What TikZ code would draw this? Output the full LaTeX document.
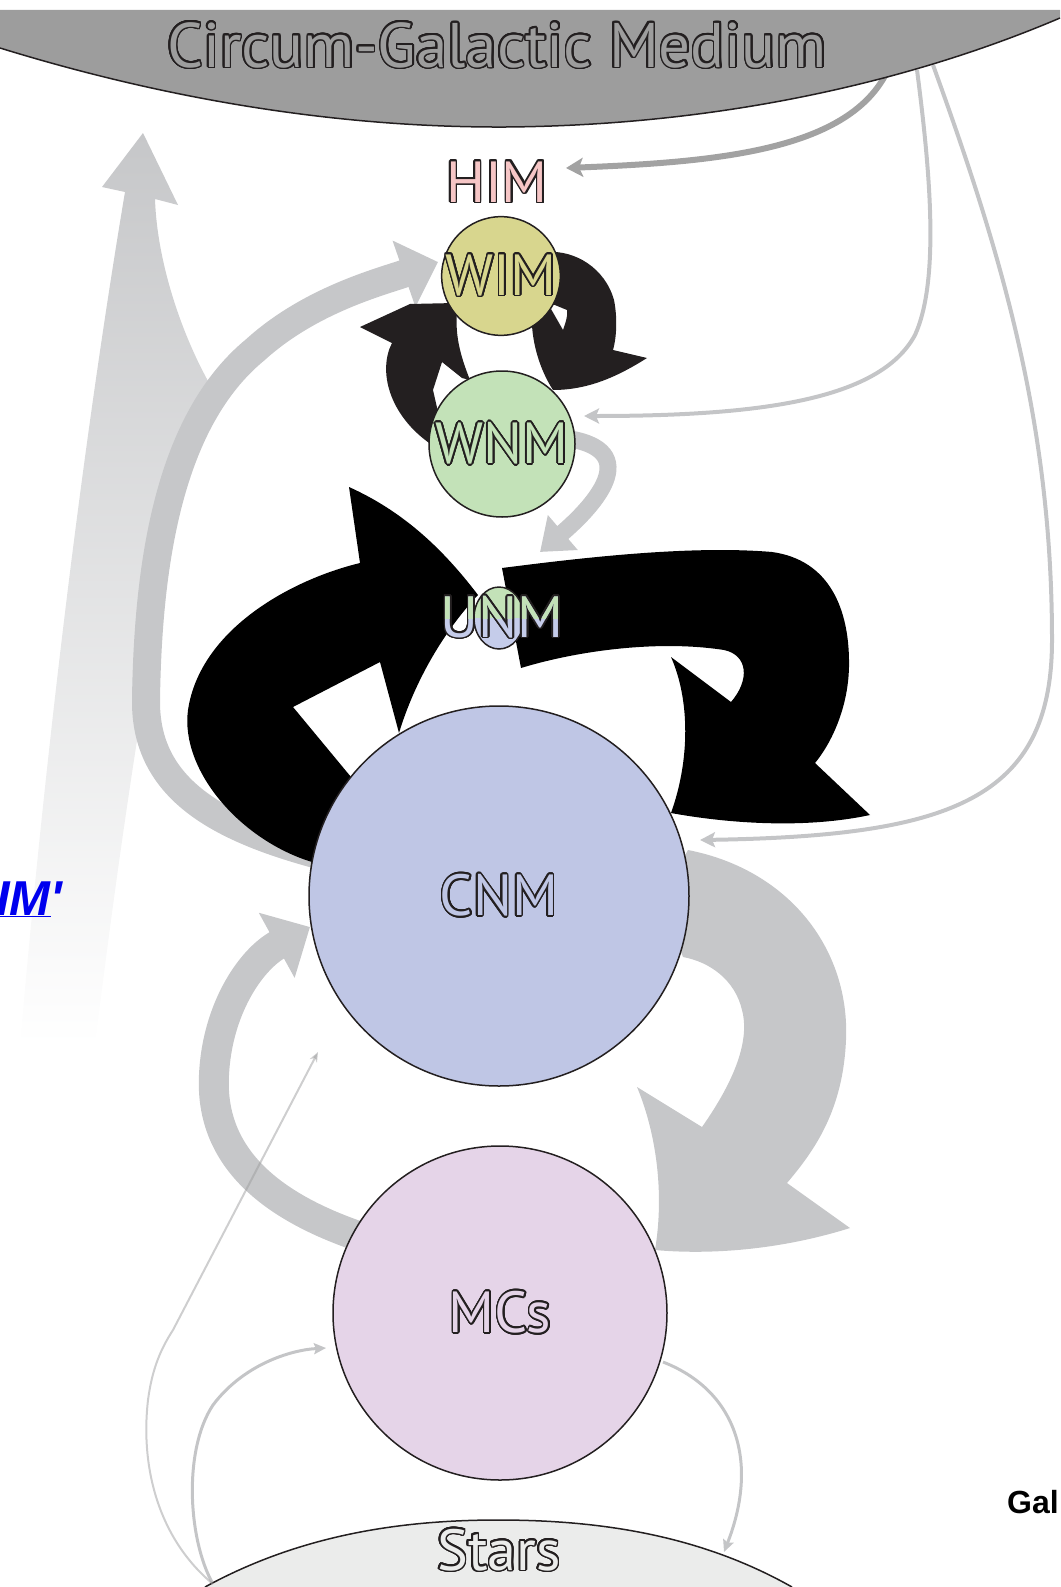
\documentclass[tikz,border=0pt]{standalone}
\usepackage{fontspec}
\setmainfont{Liberation Sans}
\newfontfamily\gasfont{PT Sans}
\usepackage[copies]{contour}
\usetikzlibrary{arrows.meta,shapes.geometric}

\definecolor{inkline}{HTML}{231F20}
\definecolor{cgmgrey}{HTML}{9D9D9D}
\definecolor{bandgrey}{HTML}{C6C7C9}
\definecolor{thingrey}{HTML}{C4C5C7}
\definecolor{himgrey}{HTML}{A2A2A2}
\definecolor{himpink}{HTML}{F6C6C6}
\definecolor{wimfill}{HTML}{D8D68E}
\definecolor{wnmfill}{HTML}{C3E2B8}
\definecolor{cnmfill}{HTML}{BFC6E5}
\definecolor{unmblue}{HTML}{C5CCEA}
\definecolor{mcsfill}{HTML}{E5D4E8}
\definecolor{starfill}{HTML}{EBECEB}
\definecolor{linkblue}{HTML}{0000EE}

\contourlength{1.6pt}
\contournumber{24}
\newcommand{\gastext}[2]{\contour{inkline}{\textcolor{#1}{#2}}}

\begin{document}
\begin{tikzpicture}[x=1pt, y=-1pt,
    gasball/.style={circle, draw=inkline, line width=1.5pt, inner sep=0pt, font=\gasfont\fontsize{58}{60}\selectfont},
    lbl/.style={anchor=base, inner sep=0pt, font=\gasfont\fontsize{58}{60}\selectfont},
    greyband/.style={draw=bandgrey},
    thinflow/.style={draw=thingrey, line width=4pt, -{Stealth[length=15pt,width=15pt,inset=3pt]}}
]
    \useasboundingbox (0,0) rectangle (1060,1587);

    % free ends of the flows
    \coordinate (cgmA) at (888,70);
    \coordinate (cgmB) at (917,70);
    \coordinate (cgmC) at (933,65);
    \coordinate (himIn) at (566,168);
    \coordinate (wnmIn) at (584,416);
    \coordinate (cnmIn) at (700,840);
    \coordinate (cnmLow) at (318,1052);
    \coordinate (mcsIn) at (326,1348);
    \coordinate (mcsOut) at (663,1362);
    \coordinate (starsIn) at (724,1552);
    \coordinate (starsOut) at (213,1584);

    % fading outflow
    \shade[top color=bandgrey, middle color=bandgrey!30, bottom color=white]
        (143,133) -- (178,205) -- (155,199) .. controls (157,260) and (180,330) .. (208,381)
        .. controls (170,520) and (130,760) .. (95,1045) -- (20,1045)
        .. controls (50,700) and (90,400) .. (125,192) -- (102,187) -- cycle;

    % thin flows out of the halo
    \draw[thinflow, draw=himgrey, line width=6pt, -{Stealth[length=17pt,width=19pt,inset=4pt]}]
        (cgmA) .. controls (850,150) and (720,162) .. (himIn);
    \draw[thinflow] (cgmB) .. controls (930,170) and (940,280) .. (915,335)
        .. controls (880,400) and (760,416) .. (wnmIn);
    \draw[thinflow] (cgmC) .. controls (1000,250) and (1052,420) .. (1052,640)
        .. controls (1052,800) and (950,836) .. (cnmIn);

    % halo
    \fill[cgmgrey] (0,10) -- (1060,10) -- (1060,18) .. controls (950,65) and (760,125) .. (506,127)
        .. controls (300,128) and (120,85) .. (0,48) -- cycle;
    \draw[inkline, line width=1.5pt] (1060,18) .. controls (950,65) and (760,125) .. (506,127)
        .. controls (300,128) and (120,85) .. (0,48);

    % thin flows near the stars
    \draw[thinflow, line width=3pt, -{Stealth[length=12pt,width=11pt,inset=2pt]}]
        (mcsOut) .. controls (735,1390) and (760,1460) .. (starsIn);
    \draw[thinflow, line width=3pt, -{Stealth[length=12pt,width=11pt,inset=2pt]}]
        (starsOut) .. controls (188,1540) and (183,1450) .. (213,1405)
        .. controls (243,1365) and (290,1350) .. (mcsIn);
    \fill[starfill] (205,1587) .. controls (300,1535) and (400,1520) .. (498,1520)
        .. controls (600,1520) and (700,1535) .. (792,1587) -- cycle;
    \draw[inkline, line width=1.5pt] (205,1587) .. controls (300,1535) and (400,1520) .. (498,1520)
        .. controls (600,1520) and (700,1535) .. (792,1587);

    % grey bands
    \draw[greyband, line width=28pt, -{Triangle[length=36pt,width=68pt]}]
        (330,858) .. controls (220,830) and (145,790) .. (146,700)
        .. controls (148,560) and (170,420) .. (255,350)
        .. controls (310,300) and (380,282) .. (438,262);
    \draw[greyband, line width=30pt, -{Triangle[length=38pt,width=72pt]}]
        (370,1240) .. controls (260,1205) and (210,1150) .. (214,1075)
        .. controls (217,1010) and (250,960) .. (310,927);
    \draw[greyband, line width=17pt, -{Triangle[length=30pt,width=44pt]}]
        (555,437) .. controls (650,445) and (595,505) .. (540,552);
    \fill[bandgrey] (688,850) .. controls (790,870) and (850,950) .. (846,1040)
        .. controls (843,1110) and (815,1150) .. (787,1183) -- (850,1228)
        .. controls (780,1250) and (710,1255) .. (655,1250)
        .. controls (665,1190) and (655,1130) .. (637,1087) -- (702,1127)
        .. controls (735,1080) and (750,1040) .. (742,1010)
        .. controls (735,980) and (710,962) .. (683,957) -- (660,900) -- cycle;
    \draw[thingrey!80!black, opacity=0.5, line width=2pt, -{Stealth[length=10pt,width=8pt]}]
        (starsOut) .. controls (160,1540) and (140,1470) .. (148,1400)
        .. controls (152,1370) and (160,1350) .. (173,1330) -- (cnmLow);

    % black cycles
    \fill[inkline] (520,262) -- (547,252) .. controls (575,250) and (605,268) .. (614,300)
        .. controls (618,320) and (616,340) .. (613,350) -- (647,358)
        .. controls (620,375) and (590,390) .. (553,390)
        .. controls (540,370) and (533,345) .. (532,325) -- (551,309) -- (563,330)
        .. controls (566,322) and (568,314) .. (567,310) -- (550,303) -- cycle;
    \fill[inkline] (480,300) -- (455,303) -- (410,304) -- (360,327) -- (392,343)
        .. controls (378,370) and (388,415) .. (432,445) -- (455,430) -- (438,412)
        -- (433,390) -- (442,362) -- (462,378) -- (470,380)
        .. controls (460,355) and (455,335) .. (457,312) -- cycle;
    \fill[black] (340,850) -- (351,777) -- (293,707) -- (380,662) -- (399,733)
        .. controls (415,680) and (445,630) .. (478,595)
        .. controls (440,545) and (400,510) .. (349,487) -- (360,563)
        .. controls (290,580) and (200,630) .. (188,710)
        .. controls (180,770) and (240,840) .. (312,862) -- cycle;
    \fill[black] (502,568) .. controls (580,558) and (690,545) .. (772,552)
        .. controls (830,560) and (850,610) .. (849,667)
        .. controls (848,710) and (830,745) .. (815,763) -- (870,815)
        .. controls (800,830) and (720,822) .. (671,813)
        .. controls (690,760) and (690,700) .. (671,657) -- (731,702)
        .. controls (750,680) and (748,655) .. (724,650)
        .. controls (660,640) and (580,650) .. (521,668) -- cycle;

    % gas phases
    \node[gasball, fill=wimfill, minimum size=106pt] (wim) at (501,276) {\gastext{wimfill}{WIM}};
    \node[gasball, fill=wnmfill, minimum size=146pt] (wnm) at (502,444) {\gastext{wnmfill}{WNM}};
    \node[ellipse, draw=inkline, line width=1.5pt, inner sep=0pt, minimum width=50pt, minimum height=62pt,
        path picture={\fill[wnmfill] (path picture bounding box.north west) rectangle (path picture bounding box.east);
                      \fill[unmblue] (path picture bounding box.west) rectangle (path picture bounding box.south east);}]
        (unm) at (499,618) {};
    \node[gasball, fill=cnmfill, minimum size=380pt] (cnm) at (499,896) {\gastext{cnmfill}{CNM}};
    \node[gasball, fill=mcsfill, minimum size=334pt] (mcs) at (500,1313) {\gastext{mcsfill}{MCs}};

    % the unstable phase is half warm, half cold
    \node[lbl] (unmlabel) at (502,637) {\gastext{unmblue}{UNM}};
    \begin{scope}
        \clip (420,560) rectangle (600,618);
        \node[lbl, text=wnmfill] at (502,637) {UNM};
    \end{scope}

    \node[lbl, font=\gasfont\fontsize{63}{65}\selectfont] (cgmlabel) at (497,67) {\gastext{cgmgrey}{Circum-Galactic Medium}};
    \node[lbl] (him) at (497,202) {\gastext{himpink}{HIM}};
    \node[lbl] (starslabel) at (499,1570) {\gastext{starfill}{Stars}};

    % texts at the edges
    \node[anchor=base west, inner sep=0pt, text=linkblue, font=\bfseries\itshape\fontsize{49}{50}\selectfont]
        (imlink) at (-4,915) {\underline{IM}\textquotesingle};
    \node[anchor=base west, inner sep=0pt, font=\bfseries\fontsize{32}{34}\selectfont]
        (galnote) at (1007,1513) {Gal};
\end{tikzpicture}
\end{document}
